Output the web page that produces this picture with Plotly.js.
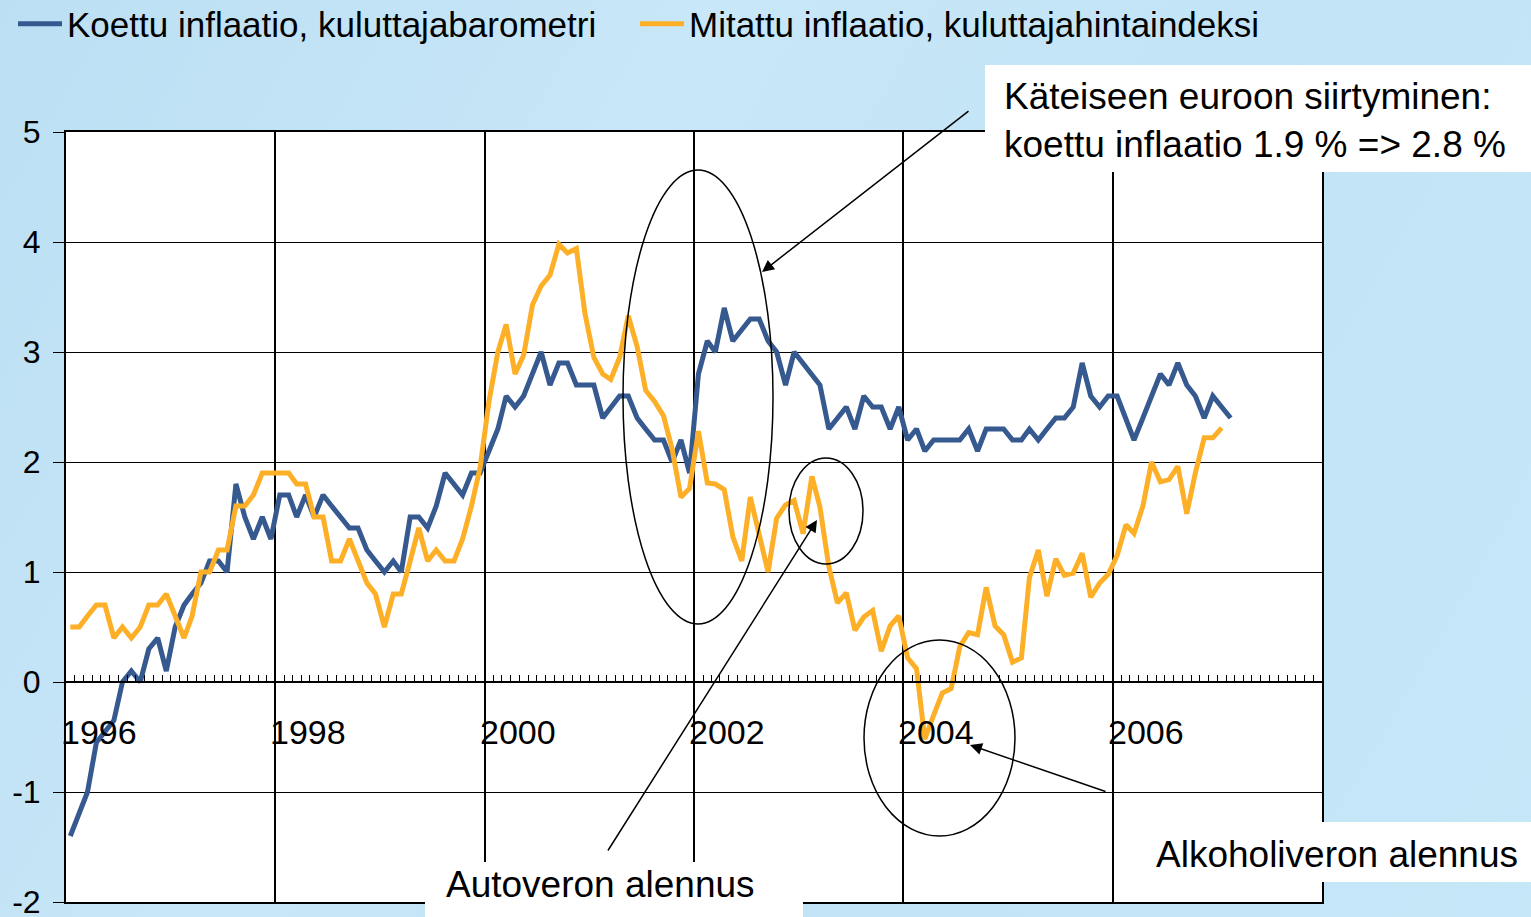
<!DOCTYPE html>
<html>
<head>
<meta charset="utf-8">
<script src="https://cdn.plot.ly/plotly-3.0.1.min.js"></script>
<style>
  html, body { margin:0; padding:0; width:1531px; height:917px; overflow:hidden;
    background: linear-gradient(120deg, #bcdff3 0%, #c8e7f8 35%, #c2e4f6 65%, #c6e7f8 100%); }
  #chart { width:1531px; height:917px; }
</style>
</head>
<body>
<div id="chart"></div>
<script>
// ---- data (monthly, starting January 1996) ----
const startYear = 1996;
const perceived = [ // Koettu inflaatio, kuluttajabarometri
  -1.4,-1.2,-1.0,-0.55,-0.45,-0.35,0.0,0.1,0.0,0.3,0.4,0.1,
  0.5,0.7,0.8,0.9,1.1,1.1,1.0,1.8,1.5,1.3,1.5,1.3,
  1.7,1.7,1.5,1.7,1.5,1.7,1.6,1.5,1.4,1.4,1.2,1.1,
  1.0,1.1,1.0,1.5,1.5,1.4,1.6,1.9,1.8,1.7,1.9,1.9,
  2.1,2.3,2.6,2.5,2.6,2.8,3.0,2.7,2.9,2.9,2.7,2.7,
  2.7,2.4,2.5,2.6,2.6,2.4,2.3,2.2,2.2,2.0,2.2,1.9,
  2.8,3.1,3.0,3.4,3.1,3.2,3.3,3.3,3.1,3.0,2.7,3.0,
  2.9,2.8,2.7,2.3,2.4,2.5,2.3,2.6,2.5,2.5,2.3,2.5,
  2.2,2.3,2.1,2.2,2.2,2.2,2.2,2.3,2.1,2.3,2.3,2.3,
  2.2,2.2,2.3,2.2,2.3,2.4,2.4,2.5,2.9,2.6,2.5,2.6,
  2.6,2.4,2.2,2.4,2.6,2.8,2.7,2.9,2.7,2.6,2.4,2.6,
  2.5,2.4
];
const measured = [ // Mitattu inflaatio, kuluttajahintaindeksi
  0.5,0.5,0.6,0.7,0.7,0.4,0.5,0.4,0.5,0.7,0.7,0.8,
  0.6,0.4,0.6,1.0,1.0,1.2,1.2,1.6,1.6,1.7,1.9,1.9,
  1.9,1.9,1.8,1.8,1.5,1.5,1.1,1.1,1.3,1.1,0.9,0.8,
  0.5,0.8,0.8,1.1,1.4,1.1,1.2,1.1,1.1,1.3,1.6,1.95,
  2.55,3.0,3.25,2.8,2.97,3.43,3.6,3.7,3.98,3.9,3.94,3.35,
  2.95,2.8,2.75,2.95,3.33,3.05,2.65,2.55,2.42,2.12,1.68,1.76,
  2.28,1.81,1.8,1.75,1.32,1.1,1.68,1.34,1.0,1.49,1.61,1.65,
  1.35,1.87,1.59,1.05,0.72,0.81,0.47,0.59,0.65,0.28,0.51,0.6,
  0.22,0.12,-0.52,-0.3,-0.1,-0.06,0.32,0.45,0.43,0.86,0.51,0.43,
  0.18,0.22,0.95,1.2,0.78,1.12,0.97,0.99,1.17,0.77,0.9,0.98,
  1.15,1.43,1.35,1.6,2.0,1.82,1.84,1.96,1.53,1.9,2.22,2.22,
  2.31
];
const seriesNames = ['Koettu inflaatio, kuluttajabarometri', 'Mitattu inflaatio, kuluttajahintaindeksi'];
const yearLabels = ['1996','1998','2000','2002','2004','2006'];
const yTicks = [-2,-1,0,1,2,3,4,5];

// month categories (mid-month dates)
function monthDates(n) {
  const out = [];
  for (let i = 0; i < n; i++) {
    const y = startYear + Math.floor(i / 12);
    const m = (i % 12) + 1;
    out.push(y + '-' + String(m).padStart(2, '0') + '-16');
  }
  return out;
}
const monthsP = monthDates(perceived.length);
const monthsM = monthDates(measured.length);

const FONT = 'Arial, "Liberation Sans", sans-serif';
const W = 1531, H = 917, L = 66, R = 1322, T = 132, B = 902;
const px = v => (v - L) / (R - L);
const py = v => (B - v) / (B - T);

const traces = [
  { x: monthsP, y: perceived, name: seriesNames[0], type: 'scatter', mode: 'lines',
    line: { color: '#36598f', width: 5 }, xaxis: 'x', yaxis: 'y', legend: 'legend' },
  { x: monthsM, y: measured, name: seriesNames[1], type: 'scatter', mode: 'lines',
    line: { color: '#fdb027', width: 5 }, xaxis: 'x2', yaxis: 'y', legend: 'legend2' }
];

const annotations = [];
yearLabels.forEach(t => {
  annotations.push({ text: t, x: t + '-01-01', xref: 'x', y: -0.455, yref: 'y',
    xanchor: 'left', yanchor: 'middle', xshift: -7, showarrow: false,
    font: { family: FONT, size: 34, color: '#000' } });
});
annotations.push({ text: 'Käteiseen euroon siirtyminen:<br>koettu inflaatio 1.9 % => 2.8 %',
  x: px(1002), y: py(120.5), xref: 'paper', yref: 'paper', xanchor: 'left', yanchor: 'middle',
  align: 'left', showarrow: false, font: { family: FONT, size: 37, color: '#000' } });
annotations.push({ text: 'Autoveron alennus', x: px(600), y: py(884), xref: 'paper', yref: 'paper',
  xanchor: 'center', yanchor: 'middle', showarrow: false, font: { family: FONT, size: 37, color: '#000' } });
annotations.push({ text: 'Alkoholiveron alennus', x: px(1337), y: py(854), xref: 'paper', yref: 'paper',
  xanchor: 'center', yanchor: 'middle', showarrow: false, font: { family: FONT, size: 37, color: '#000' } });
// arrows
[[762, 272, 970, 110], [817, 520, 607, 852], [970, 745, 1107, 792]].forEach(a => {
  annotations.push({ text: '', x: px(a[0]), y: py(a[1]), xref: 'paper', yref: 'paper',
    ax: a[2] - a[0], ay: a[3] - a[1], axref: 'pixel', ayref: 'pixel', showarrow: true,
    arrowhead: 2, arrowsize: 1.6, arrowwidth: 1.5, arrowcolor: '#000', standoff: 0 });
});

const shapes = [
  // white label boxes
  { type: 'rect', xref: 'paper', yref: 'paper', x0: px(985), x1: px(1535), y0: py(172), y1: py(65),
    fillcolor: '#fff', line: { width: 0 }, layer: 'above' },
  { type: 'rect', xref: 'paper', yref: 'paper', x0: px(425), x1: px(803), y0: py(920), y1: py(862),
    fillcolor: '#fff', line: { width: 0 }, layer: 'above' },
  { type: 'rect', xref: 'paper', yref: 'paper', x0: px(1150), x1: px(1535), y0: py(882), y1: py(822),
    fillcolor: '#fff', line: { width: 0 }, layer: 'above' },
  // ellipses
  { type: 'circle', xref: 'paper', yref: 'paper', x0: px(623), x1: px(773), y0: py(624), y1: py(170),
    line: { color: '#000', width: 1.5 }, layer: 'above' },
  { type: 'circle', xref: 'paper', yref: 'paper', x0: px(789), x1: px(863), y0: py(564), y1: py(458),
    line: { color: '#000', width: 1.5 }, layer: 'above' },
  { type: 'circle', xref: 'paper', yref: 'paper', x0: px(864), x1: px(1015), y0: py(836), y1: py(640),
    line: { color: '#000', width: 1.5 }, layer: 'above' }
];

const legendBase = { orientation: 'h', xanchor: 'left', y: py(24), yanchor: 'middle',
  bgcolor: 'rgba(0,0,0,0)', borderwidth: 0, font: { family: FONT, size: 35, color: '#000' }, itemwidth: 44 };

const layout = {
  width: W, height: H,
  margin: { l: L, r: W - R, t: T, b: H - B, pad: 0, autoexpand: false },
  paper_bgcolor: 'rgba(0,0,0,0)',
  plot_bgcolor: '#ffffff',
  font: { family: FONT, color: '#000' },
  showlegend: true,
  legend: Object.assign({}, legendBase, { x: px(13) }),
  legend2: Object.assign({}, legendBase, { x: px(635) }),
  xaxis: { type: 'date', range: ['1996-01-01', '2008-01-01'], tick0: '1996-01-01', dtick: 'M24',
    showgrid: true, gridcolor: '#000', gridwidth: 2, showticklabels: false, ticks: '',
    showline: true, linecolor: '#000', linewidth: 2, mirror: true, zeroline: false, fixedrange: true },
  xaxis2: { type: 'date', overlaying: 'x', matches: 'x', anchor: 'free', position: py(682),
    range: ['1996-01-01', '2008-01-01'], tick0: '1996-01-01', dtick: 'M1',
    showgrid: false, showticklabels: false, ticks: 'inside', ticklen: 6, tickwidth: 1, tickcolor: '#000',
    showline: true, linecolor: '#000', linewidth: 2, zeroline: false },
  yaxis: { range: [-2, 5], tickvals: yTicks, ticktext: yTicks.map(String),
    showgrid: true, gridcolor: '#000', gridwidth: 1, zeroline: false,
    showline: true, linecolor: '#000', linewidth: 2, mirror: true,
    ticks: 'outside', ticklen: 11, tickwidth: 1, tickcolor: '#000', ticklabelstandoff: 6,
    ticklabeloverflow: 'allow',
    tickfont: { family: FONT, size: 32, color: '#000' }, fixedrange: true },
  annotations: annotations,
  shapes: shapes
};

Plotly.newPlot('chart', traces, layout, { displayModeBar: false, staticPlot: true });
</script>
</body>
</html>
